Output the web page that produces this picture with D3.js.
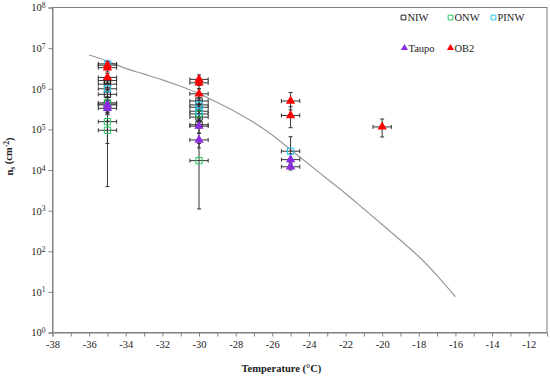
<!doctype html>
<meta charset="utf-8">
<style>
body { margin: 0; background: #fff; }
svg, svg text { font-family: "Liberation Serif", "DejaVu Serif", serif !important; }
svg text { fill: #222; }
.frame { fill: none; stroke: #808080; stroke-width: 1px; }
.curve { fill: none; stroke: #999; stroke-width: 1.2px; }
.err { stroke: #333; stroke-width: 1px; }
</style>
<html lang="en">
<body>
<script src="https://d3js.org/d3.v7.min.js"></script>
<script>
// data: [temperature, ns, lower, upper]
var NIW = [
  [-35, 1.6e6, 1.2e6, 2.0e6], [-35, 1.3e6, 9.5e5, 1.7e6], [-35, 7.3e5, 5.5e5, 9.5e5], [-35, 4.2e5, 3.0e5, 5.5e5],
  [-30, 5.0e5, 3.5e5, 7.0e5], [-30, 3.5e5, 2.4e5, 5.0e5], [-30, 2.0e5, 1.3e5, 3.0e5], [-30, 1.3e5, 8.0e4, 2.0e5]
];
var ONW = [
  [-35, 4.5e5, 2.5e5, 6.5e5], [-35, 1.55e5, 4.5e4, 2.6e5], [-35, 9.5e4, 3.9e3, 1.6e5],
  [-30, 2.4e5, 1.5e5, 3.5e5], [-30, 1.7e4, 1.1e3, 4.5e4]
];
var PINW = [
  [-35, 4.1e6, 3.2e6, 4.8e6], [-35, 1.0e6, 8.0e5, 1.3e6],
  [-30, 4.0e5, 2.8e5, 5.6e5], [-30, 2.8e5, 1.9e5, 4.0e5],
  [-25, 2.9e4, 1.4e4, 6.6e4]
];
var Taupo = [
  [-35, 4.0e5, 2.8e5, 5.2e5], [-35, 3.3e5, 2.3e5, 4.3e5],
  [-30, 1.2e5, 8.0e4, 1.8e5], [-30, 5.5e4, 3.5e4, 8.0e4],
  [-25, 1.8e4, 1.3e4, 2.5e4], [-25, 1.2e4, 1.0e4, 1.5e4]
];
var OB2 = [
  [-35, 3.8e6, 3.0e6, 4.6e6], [-35, 3.3e6, 2.6e6, 4.2e6], [-35, 1.9e6, 1.4e6, 2.4e6],
  [-30, 1.7e6, 1.2e6, 2.2e6], [-30, 1.4e6, 1.0e6, 1.9e6], [-30, 7.5e5, 5.0e5, 1.0e6],
  [-25, 5.0e5, 3.0e5, 8.1e5], [-25, 2.2e5, 1.1e5, 3.6e5],
  [-20, 1.15e5, 6.5e4, 1.8e5]
];
var xErr = 0.5;
// fitted curve, log10 ns at each temperature
var curveT   = [-36, -35, -34, -33, -32, -31, -30, -29, -28, -27, -26, -25, -24, -23, -22, -21, -20, -19, -18, -17, -16];
var curveLog = [6.83, 6.68, 6.50, 6.36, 6.22, 6.06, 5.88, 5.66, 5.43, 5.17, 4.86, 4.50, 4.14, 3.78, 3.42, 3.04, 2.66, 2.27, 1.87, 1.40, 0.88];
var xTicks = d3.range(-38, -11, 1);
var yTicks = [1, 10, 100, 1e3, 1e4, 1e5, 1e6, 1e7, 1e8];

var margin = {top: 7.5, right: 3, bottom: 44.5, left: 52.5},
    width = 550 - margin.left - margin.right,
    height = 377 - margin.top - margin.bottom;

var x = d3.scaleLinear().domain([-38, -11]).range([0, width]);
var y = d3.scaleLog().domain([1, 1e8]).range([height, 0]);

var serif = "'Liberation Serif', 'DejaVu Serif', serif";

var svg = d3.select("body").append("svg")
    .attr("width", 550).attr("height", 377)
    .attr("font-family", serif)
  .append("g")
    .attr("transform", "translate(" + margin.left + "," + margin.top + ")");

svg.append("rect").attr("class", "frame")
    .attr("width", width).attr("height", height);

// x axis
var xAxis = svg.append("g")
    .attr("transform", "translate(0," + height + ")")
    .call(d3.axisBottom(x).tickValues(xTicks).tickSize(4).tickPadding(4)
      .tickFormat(function(d) { return d % 2 === 0 ? d : ""; }));
// y axis
var yAxis = svg.append("g")
    .call(d3.axisLeft(y).tickValues(yTicks).tickSize(4).tickPadding(5).tickFormat(""));
yAxis.selectAll(".tick").append("text")
    .attr("x", -7).attr("dy", "0.32em").attr("text-anchor", "end")
    .each(function(d) {
      var t = d3.select(this);
      t.append("tspan").text("10");
      t.append("tspan").attr("class", "sup").attr("dy", "-0.45em").text(Math.round(Math.log10(d)));
    });
[xAxis, yAxis].forEach(function(a) {
  a.attr("font-family", serif);
  a.select(".domain").attr("stroke", "#808080");
  a.selectAll(".tick line").attr("stroke", "#808080");
  a.selectAll("text").style("font-size", "10.5px").attr("fill", "#222");
});
yAxis.selectAll("tspan.sup").style("font-size", "7.5px");

// curve
var line = d3.line()
    .x(function(d, i) { return x(curveT[i]); })
    .y(function(d) { return y(Math.pow(10, d)); })
    .curve(d3.curveMonotoneX);
svg.append("path").datum(curveLog).attr("class", "curve").attr("d", line);

var series = [
  {name: "NIW", data: NIW, color: "#222", shape: "square"},
  {name: "ONW", data: ONW, color: "#22c55e", shape: "square"},
  {name: "PINW", data: PINW, color: "#22c4f0", shape: "square"},
  {name: "Taupo", data: Taupo, color: "#8b2be2", shape: "triangle"},
  {name: "OB2", data: OB2, color: "#ff0000", shape: "triangle"}
];

// error bars
var eb = svg.append("g");
series.forEach(function(s) {
  s.data.forEach(function(d) {
    var cx = x(d[0]), cy = y(d[1]);
    eb.append("line").attr("class", "err").attr("stroke", "#555")
      .attr("x1", cx).attr("x2", cx).attr("y1", y(d[2])).attr("y2", y(d[3]));
    [d[2], d[3]].forEach(function(v) {
      eb.append("line").attr("class", "err")
        .attr("x1", cx - 2).attr("x2", cx + 2).attr("y1", y(v)).attr("y2", y(v));
    });
    eb.append("line").attr("class", "err")
      .attr("x1", x(d[0] - xErr)).attr("x2", x(d[0] + xErr)).attr("y1", cy).attr("y2", cy);
    [d[0] - xErr, d[0] + xErr].forEach(function(v) {
      eb.append("line").attr("class", "err")
        .attr("x1", x(v)).attr("x2", x(v)).attr("y1", cy - 2).attr("y2", cy + 2);
    });
  });
});

var sq = d3.symbol().type(d3.symbolSquare).size(40);
var tri = d3.symbol().type(d3.symbolTriangle).size(38);
function drawMark(g, s, cx, cy) {
  var p = g.append("path")
    .attr("transform", "translate(" + cx + "," + cy + ")")
    .attr("d", s.shape === "square" ? sq() : tri());
  if (s.shape === "square") p.attr("fill", "none").attr("stroke", s.color).attr("stroke-width", 1);
  else p.attr("fill", s.color);
}
var marks = svg.append("g");
series.forEach(function(s) {
  s.data.forEach(function(d) { drawMark(marks, s, x(d[0]), y(d[1])); });
});

// legend
var legend = svg.append("g");
var legPos = [[351, 10], [398, 10], [441, 10], [352, 40.5], [398, 40.5]];
series.forEach(function(s, i) {
  var g = legend.append("g").attr("transform", "translate(" + legPos[i][0] + "," + legPos[i][1] + ")");
  var sym = s.shape === "square" ? d3.symbol().type(d3.symbolSquare).size(22) : d3.symbol().type(d3.symbolTriangle).size(22);
  var p = g.append("path").attr("d", sym());
  if (s.shape === "square") p.attr("fill", "none").attr("stroke", s.color);
  else p.attr("fill", s.color);
  g.append("text").attr("x", 4).attr("dy", "0.35em").style("font-size", "10.5px").text(s.name);
});

// axis titles
svg.append("text")
    .attr("x", x(-25.5)).attr("y", height + 39)
    .attr("text-anchor", "middle").style("font-size", "10.5px").style("font-weight", "bold")
    .text("Temperature  (°C)");
var yt = svg.append("text")
    .attr("transform", "translate(" + (-40) + "," + 149 + ") rotate(-90)")
    .attr("text-anchor", "middle").style("font-size", "10.5px").style("font-weight", "bold");
yt.append("tspan").text("n");
yt.append("tspan").attr("dy", "0.3em").style("font-size", "7.5px").text("s");
yt.append("tspan").attr("dy", "-0.3em").text(" (cm");
yt.append("tspan").attr("dy", "-0.4em").style("font-size", "7.5px").text("-2");
yt.append("tspan").attr("dy", "0.4em").text(")");
</script>
</body>
</html>
